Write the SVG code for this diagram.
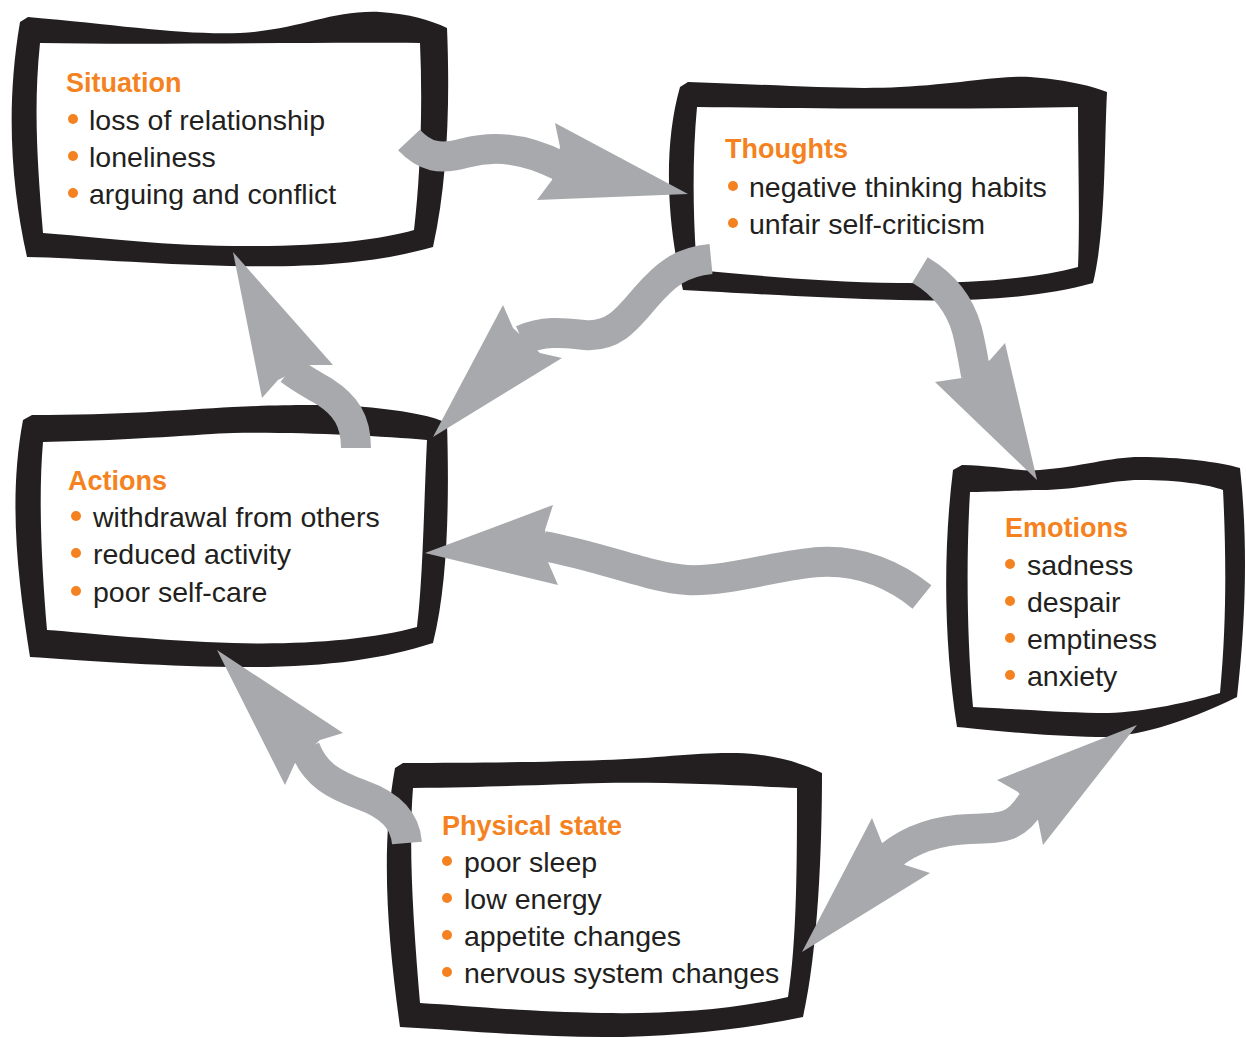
<svg xmlns="http://www.w3.org/2000/svg" width="1246" height="1038" viewBox="0 0 1246 1038">
<style>
.frame{fill:#231f20}
.inner{fill:#ffffff}
.title{font-family:"Liberation Sans",Arial,sans-serif;font-weight:bold;font-size:27px;fill:#f58220}
.item{font-family:"Liberation Sans",Arial,sans-serif;font-size:28.5px;fill:#231f20}
.dot{fill:#f58220}
.band{fill:none;stroke:#a7a9ac;stroke-width:30;stroke-linecap:butt}
.head{fill:#a7a9ac}
</style>
<rect width="1246" height="1038" fill="#ffffff"/>
<g id="situation">
<path class="frame" d="M 20,22 L 28,17 C 120,25 180,35 240,33 C 300,30 330,10 380,12 C 410,14 430,20 447,28 C 450,100 448,180 433,247 C 380,262 320,268 230,266 C 150,264 80,258 27,257 C 12,190 5,110 20,22 Z"/>
<path class="inner" d="M 40,43 C 150,45 300,42 420,43 C 423,110 420,180 414,230 C 380,240 320,247 233,246 C 150,245 90,236 43,233 C 38,170 33,110 40,43 Z"/>
<text class="title" x="66" y="92">Situation</text>
<circle class="dot" cx="73" cy="119" r="5"/><text class="item" x="89" y="130">loss of relationship</text>
<circle class="dot" cx="73" cy="156" r="5"/><text class="item" x="89" y="167">loneliness</text>
<circle class="dot" cx="73" cy="193" r="5"/><text class="item" x="89" y="204">arguing and conflict</text>
</g>
<g id="thoughts">
<path class="frame" d="M 680,87 L 688,82 C 780,85 850,90 900,87 C 960,84 1000,75 1030,77 C 1060,79 1090,85 1107,92 C 1104,150 1106,230 1093,283 C 1040,298 970,302 900,300 C 820,298 740,293 683,290 C 668,230 662,150 680,87 Z"/>
<path class="inner" d="M 697,107 C 800,108 950,110 1078,107 C 1078,160 1080,220 1078,267 C 1030,280 960,284 900,283 C 820,282 750,275 697,270 C 693,220 692,160 697,107 Z"/>
<text class="title" x="725" y="158">Thoughts</text>
<circle class="dot" cx="733" cy="186" r="5"/><text class="item" x="749" y="197">negative thinking habits</text>
<circle class="dot" cx="733" cy="223" r="5"/><text class="item" x="749" y="234">unfair self-criticism</text>
</g>
<g id="actions">
<path class="frame" d="M 23,420 L 32,415 C 120,415 180,410 233,407 C 300,404 340,405 365,407 C 400,410 430,415 447,423 C 449,490 449,580 433,643 C 380,660 320,668 233,667 C 150,666 80,660 30,657 C 18,580 8,500 23,420 Z"/>
<path class="inner" d="M 43,442 C 140,440 200,434 233,433 C 300,432 380,436 427,440 C 424,500 423,580 417,627 C 370,640 300,645 233,643 C 160,641 90,633 47,630 C 42,570 38,500 43,442 Z"/>
<text class="title" x="68" y="490">Actions</text>
<circle class="dot" cx="76" cy="516" r="5"/><text class="item" x="93" y="527">withdrawal from others</text>
<circle class="dot" cx="76" cy="553" r="5"/><text class="item" x="93" y="564">reduced activity</text>
<circle class="dot" cx="76" cy="591" r="5"/><text class="item" x="93" y="602">poor self-care</text>
</g>
<g id="emotions">
<path class="frame" d="M 953,470 L 962,465 C 1000,466 1020,472 1040,470 C 1080,467 1110,457 1140,457 C 1180,457 1220,462 1240,468 C 1248,540 1246,620 1237,697 C 1180,725 1130,738 1097,737 C 1040,736 990,730 957,727 C 945,650 942,560 953,470 Z"/>
<path class="inner" d="M 970,492 C 1000,492 1020,490 1040,490 C 1080,490 1110,480 1140,480 C 1180,480 1210,485 1223,490 C 1226,550 1227,620 1220,693 C 1180,705 1130,714 1097,713 C 1050,712 1000,708 973,707 C 967,640 966,560 970,492 Z"/>
<text class="title" x="1005" y="537">Emotions</text>
<circle class="dot" cx="1010" cy="564" r="5"/><text class="item" x="1027" y="575">sadness</text>
<circle class="dot" cx="1010" cy="601" r="5"/><text class="item" x="1027" y="612">despair</text>
<circle class="dot" cx="1010" cy="638" r="5"/><text class="item" x="1027" y="649">emptiness</text>
<circle class="dot" cx="1010" cy="675" r="5"/><text class="item" x="1027" y="686">anxiety</text>
</g>
<g id="physical">
<path class="frame" d="M 395,768 L 403,763 C 480,763 550,762 603,760 C 660,758 700,752 737,753 C 770,754 800,762 822,773 C 822,850 818,950 803,1017 C 740,1030 670,1037 603,1037 C 530,1037 460,1030 400,1027 C 388,940 380,850 395,768 Z"/>
<path class="inner" d="M 413,788 C 500,787 560,784 603,783 C 680,782 750,786 797,788 C 797,860 797,940 788,997 C 730,1010 670,1014 603,1013 C 530,1012 470,1006 420,1003 C 414,930 408,850 413,788 Z"/>
<text class="title" x="442" y="835">Physical state</text>
<circle class="dot" cx="447" cy="861" r="5"/><text class="item" x="464" y="872">poor sleep</text>
<circle class="dot" cx="447" cy="898" r="5"/><text class="item" x="464" y="909">low energy</text>
<circle class="dot" cx="447" cy="935" r="5"/><text class="item" x="464" y="946">appetite changes</text>
<circle class="dot" cx="447" cy="972" r="5"/><text class="item" x="464" y="983">nervous system changes</text>
</g>
<g id="connectors">
<path class="band" d="M 409,140 C 425,157 440,160 465,153 C 495,145 525,148 560,166"/>
<polygon class="head" points="688,194 555,123 560,147 552,180 537,200"/>
<path class="band" d="M 711,259 C 680,262 665,275 645,298 C 625,322 612,337 585,335 C 565,333 545,330 522,340"/>
<polygon class="head" points="433,437 503,305 513,328 540,353 562,358"/>
<path class="band" d="M 356,448 C 356,420 345,405 325,392 C 310,383 300,378 290,370"/>
<polygon class="head" points="233,252 262,398 278,380 308,365 333,365"/>
<path class="band" d="M 920,270 C 945,285 960,305 967,330 C 972,350 974,365 976,375"/>
<polygon class="head" points="1037,480 935,382 962,378 990,360 1005,343"/>
<path class="band" d="M 922,597 C 895,575 860,560 820,562 C 780,564 730,582 687,580 C 650,578 600,556 543,546"/>
<polygon class="head" points="425,553 553,505 545,530 548,562 558,585"/>
<path class="band" d="M 407,843 C 405,820 390,805 362,795 C 335,785 315,775 305,748"/>
<polygon class="head" points="217,650 285,785 295,763 320,740 343,733"/>
<path class="band" d="M 890,856 C 910,840 935,830 970,829 C 1000,828 1015,830 1032,802"/>
<polygon class="head" points="802,952 872,818 882,843 905,865 930,873"/>
<polygon class="head" points="1137,725 997,780 1018,792 1038,820 1043,845"/>
</g>
</svg>
